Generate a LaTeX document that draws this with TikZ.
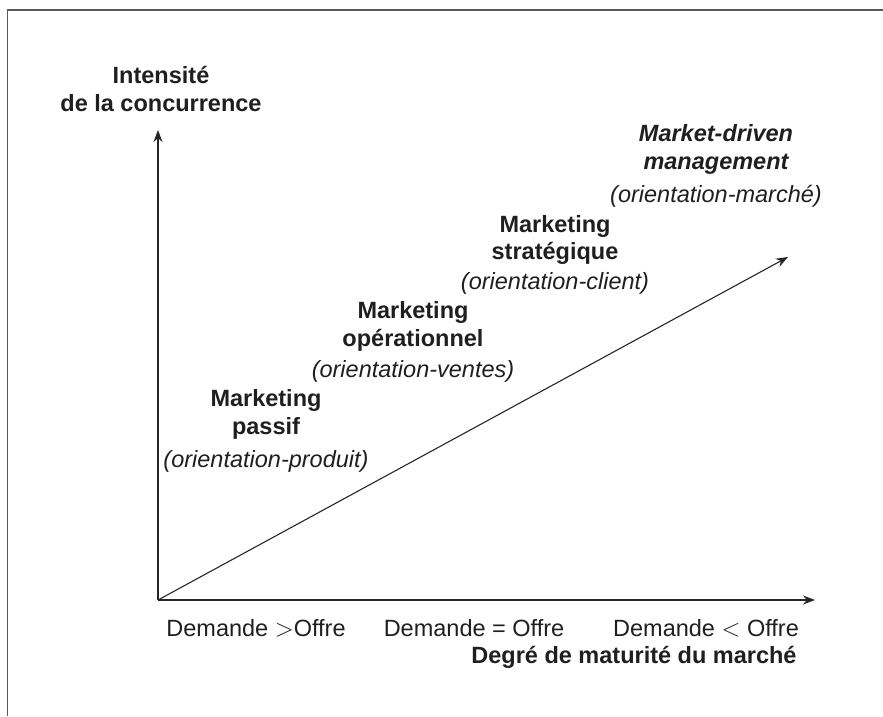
\documentclass[tikz,border=0pt]{standalone}
\usepackage{fontspec}
\setmainfont{Liberation Sans}
\usetikzlibrary{arrows.meta}
\begin{document}
\begin{tikzpicture}[
                x=1pt, y=1pt,
                every node/.style={
                    text=black!88, inner sep=0pt, font=\fontsize{23.5}{28}\selectfont
                },
                stagenode/.style={
                    align=center, anchor=base, font=\fontsize{23.5}{28}\selectfont\bfseries
                },
                ticklabel/.style={
                    anchor=base
                },
                axisline/.style={
                    draw=black!85, line width=1.3pt, -{Stealth[length=12pt,width=9pt]}
                }
            ]
            \useasboundingbox (0, 0) rectangle (883, 716);
            \draw[black!65, line width=1.5pt] (7.5, 0) -- (7.5, 706) -- (883, 706);

            \coordinate (O) at (158, 116);
            \coordinate (Ytip) at (158, 586);
            \coordinate (Xtip) at (815, 116);
            \coordinate (Dtip) at (788, 459);

            % axes
            \draw[axisline] (O) -- (Ytip);
            \draw[axisline] (O) -- (Xtip);
            \draw[axisline, line width=1.1pt] (O) -- (Dtip);

            % labels (placed by the baseline of their last line)
            \node[stagenode] (intensite) at (161, 604) {Intensit\'e\\de la concurrence};
            \node[stagenode] (passif) at (266, 249) {Marketing\\passif\\[5pt]\mdseries\itshape (orientation-produit)};
            \node[stagenode] (operationnel) at (413, 339) {Marketing\\op\'erationnel\\[3pt]\mdseries\itshape (orientation-ventes)};
            \node[stagenode] (strategique) at (555, 426) {Marketing\\strat\'egique\\[2pt]\mdseries\itshape (orientation-client)};
            \node[stagenode] (marketdriven) at (716, 513) {\itshape Market-driven\\\itshape management\\[5pt]\mdseries\itshape (orientation-march\'e)};

            \node[ticklabel] (dsup) at (256, 80) {Demande $>$Offre};
            \node[ticklabel] (deq) at (474, 80) {Demande = Offre};
            \node[ticklabel] (dinf) at (706, 80) {Demande $<$ Offre};
            \node[ticklabel, font=\fontsize{23.5}{28}\selectfont\bfseries] (maturite) at (634, 53) {Degr\'e de maturit\'e du march\'e};
            \end{tikzpicture}
\end{document}
